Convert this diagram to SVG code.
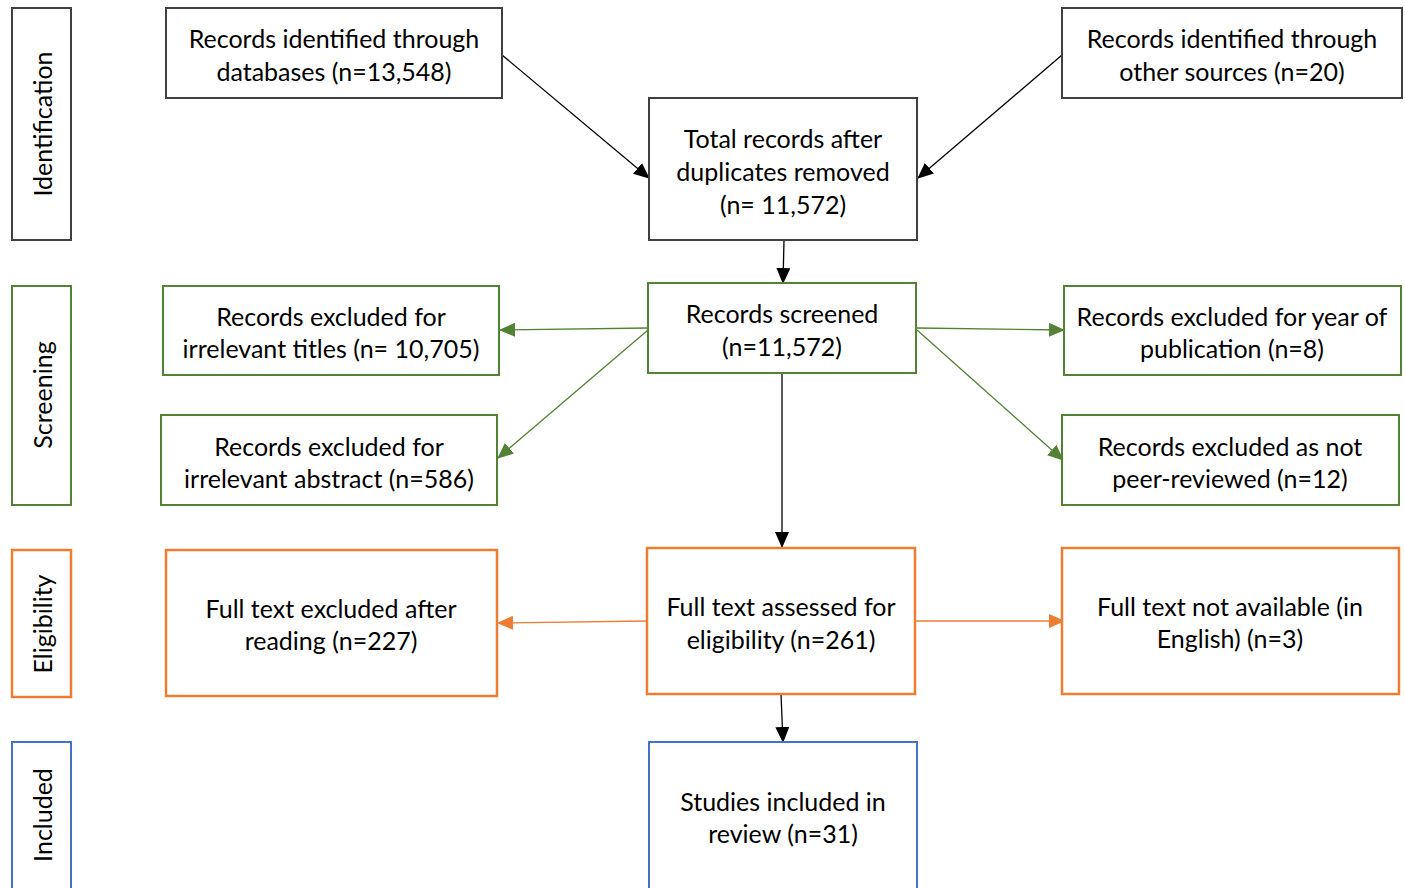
<svg xmlns="http://www.w3.org/2000/svg" width="1405" height="888" viewBox="0 0 1405 888">
<style>
.t{font-family:Lato,"Liberation Sans",sans-serif;font-size:25px;fill:#000;text-anchor:middle;dominant-baseline:central}
.k{fill:#fff;stroke:#404040;stroke-width:2}
.g{fill:#fff;stroke:#548235;stroke-width:2}
.o{fill:#fff;stroke:#ED7D31;stroke-width:2.5}
.b{fill:#fff;stroke:#4472C4;stroke-width:2}
.ck{stroke:#000;stroke-width:1.3;fill:none}
.cg{stroke:#548235;stroke-width:1.3;fill:none}
.co{stroke:#ED7D31;stroke-width:1.3;fill:none}
</style>
<defs>
<marker id="ak" markerWidth="16" markerHeight="14" refX="15" refY="7" orient="auto" markerUnits="userSpaceOnUse"><path d="M0,0 L16,7 L0,14 Z" fill="#000"/></marker>
<marker id="ag" markerWidth="16" markerHeight="14" refX="15" refY="7" orient="auto" markerUnits="userSpaceOnUse"><path d="M0,0 L16,7 L0,14 Z" fill="#548235"/></marker>
<marker id="ao" markerWidth="16" markerHeight="14" refX="15" refY="7" orient="auto" markerUnits="userSpaceOnUse"><path d="M0,0 L16,7 L0,14 Z" fill="#ED7D31"/></marker>
</defs>
<rect width="1405" height="888" fill="#fff"/>
<g id="stage-identification"><rect class="k" x="12" y="8" width="59" height="232"/><text class="t" transform="translate(42,124) rotate(-90)">Identification</text></g>
<g id="stage-screening"><rect class="g" x="12" y="286" width="59" height="219"/><text class="t" transform="translate(42,395) rotate(-90)">Screening</text></g>
<g id="stage-eligibility"><rect class="o" x="12" y="550" width="59" height="147"/><text class="t" transform="translate(42,624) rotate(-90)">Eligibility</text></g>
<g id="stage-included"><rect class="b" x="12" y="742" width="59" height="160"/><text class="t" transform="translate(42,815) rotate(-90)">Included</text></g>
<g id="connectors">
<line class="ck" x1="502" y1="55" x2="649" y2="178" marker-end="url(#ak)"/>
<line class="ck" x1="1062" y1="55" x2="918" y2="178" marker-end="url(#ak)"/>
<line class="ck" x1="784" y1="240" x2="783" y2="283" marker-end="url(#ak)"/>
<line class="cg" x1="648" y1="328" x2="500" y2="330" marker-end="url(#ag)"/>
<line class="cg" x1="648" y1="330" x2="498" y2="458" marker-end="url(#ag)"/>
<line class="cg" x1="917" y1="328" x2="1064" y2="330" marker-end="url(#ag)"/>
<line class="cg" x1="917" y1="330" x2="1063" y2="460" marker-end="url(#ag)"/>
<line class="ck" x1="782" y1="373" x2="782" y2="547" marker-end="url(#ak)"/>
<line class="co" x1="647" y1="621" x2="498" y2="623" marker-end="url(#ao)"/>
<line class="co" x1="916" y1="621" x2="1064" y2="621" marker-end="url(#ao)"/>
<line class="ck" x1="781" y1="694" x2="783" y2="742" marker-end="url(#ak)"/>
</g>
<g id="n-databases"><rect class="k" x="166" y="8" width="336" height="90"/><text class="t" x="334" y="38">Records identified through</text><text class="t" x="334" y="71">databases (n=13,548)</text></g>
<g id="n-other"><rect class="k" x="1062" y="8" width="340" height="90"/><text class="t" x="1232" y="38">Records identified through</text><text class="t" x="1232" y="71">other sources (n=20)</text></g>
<g id="n-total"><rect class="k" x="649" y="98" width="268" height="142"/><text class="t" x="783" y="138">Total records after</text><text class="t" x="783" y="171">duplicates removed</text><text class="t" x="783" y="204">(n= 11,572)</text></g>
<g id="n-screened"><rect class="g" x="648" y="283" width="268" height="90"/><text class="t" x="782" y="313">Records screened</text><text class="t" x="782" y="346">(n=11,572)</text></g>
<g id="n-titles"><rect class="g" x="163" y="286" width="336" height="89"/><text class="t" x="331" y="316">Records excluded for</text><text class="t" x="331" y="348">irrelevant titles (n= 10,705)</text></g>
<g id="n-abstract"><rect class="g" x="161" y="415" width="336" height="90"/><text class="t" x="329" y="446">Records excluded for</text><text class="t" x="329" y="478">irrelevant abstract (n=586)</text></g>
<g id="n-year"><rect class="g" x="1064" y="286" width="337" height="89"/><text class="t" x="1232" y="316">Records excluded for year of</text><text class="t" x="1232" y="348">publication (n=8)</text></g>
<g id="n-peer"><rect class="g" x="1062" y="415" width="337" height="90"/><text class="t" x="1230" y="446">Records excluded as not</text><text class="t" x="1230" y="478">peer-reviewed (n=12)</text></g>
<g id="n-assessed"><rect class="o" x="647" y="548" width="268" height="146"/><text class="t" x="781" y="606">Full text assessed for</text><text class="t" x="781" y="639">eligibility (n=261)</text></g>
<g id="n-reading"><rect class="o" x="166" y="550" width="331" height="146"/><text class="t" x="331" y="608">Full text excluded after</text><text class="t" x="331" y="640">reading (n=227)</text></g>
<g id="n-english"><rect class="o" x="1062" y="548" width="337" height="146"/><text class="t" x="1230" y="606">Full text not available (in</text><text class="t" x="1230" y="638">English) (n=3)</text></g>
<g id="n-included"><rect class="b" x="649" y="742" width="268" height="160"/><text class="t" x="783" y="801">Studies included in</text><text class="t" x="783" y="833">review (n=31)</text></g>
</svg>
